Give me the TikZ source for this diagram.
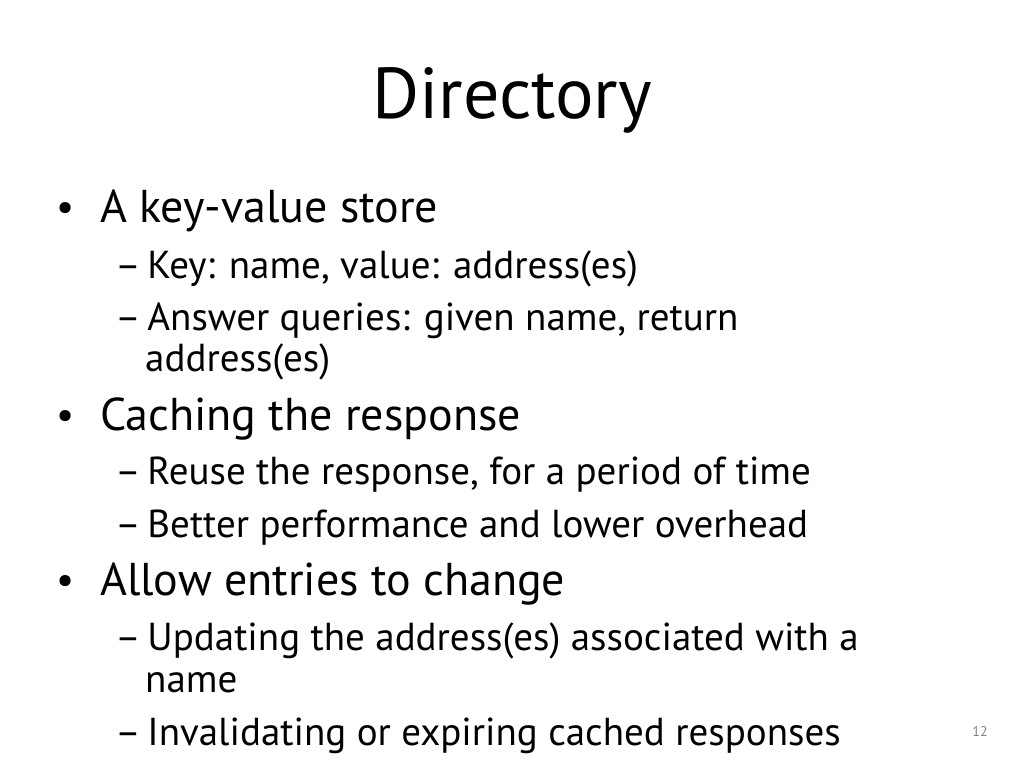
\documentclass[tikz,border=0pt]{standalone}
\usepackage{fontspec}
\setmainfont{PT Sans}
\begin{document}
\begin{tikzpicture}[x=1pt,y=-1pt,
  l1/.style={anchor=base west,inner sep=0,font=\fontsize{46}{50}\selectfont},
  l2/.style={anchor=base west,inner sep=0,font=\fontsize{39}{44}\selectfont},
  bul/.style={anchor=base,inner sep=0,font=\fontsize{40}{44}\selectfont}]
\useasboundingbox (0,0) rectangle (1024,768);
\node[anchor=base,inner sep=0,font=\fontsize{72}{76}\selectfont] (title) at (512,118) {Directory};
\node[bul] (b1) at (66,220) {•};
\node[l1] (t1) at (100,222) {A key-value store};
\node[l2] (t2) at (115,278) {–\,Key: name, value: address(es)};
\node[l2] (t3) at (115,330) {–\,Answer queries: given name, return};
\node[l2] (t3b) at (145,371) {address(es)};
\node[bul] (b2) at (66,428) {•};
\node[l1] (t4) at (100,430) {Caching the response};
\node[l2] (t5) at (115,484) {–\,Reuse the response, for a period of time};
\node[l2] (t6) at (115,537) {–\,Better performance and lower overhead};
\node[bul] (b3) at (66,593) {•};
\node[l1] (t7) at (100,595) {Allow entries to change};
\node[l2] (t8) at (115,650) {–\,Updating the address(es) associated with a};
\node[l2] (t8b) at (145,692) {name};
\node[l2] (t9) at (115,745) {–\,Invalidating or expiring cached responses};
\node[anchor=base,inner sep=0,font=\fontsize{14}{16}\selectfont,text=gray] (pg) at (980,736) {12};
\end{tikzpicture}
\end{document}
